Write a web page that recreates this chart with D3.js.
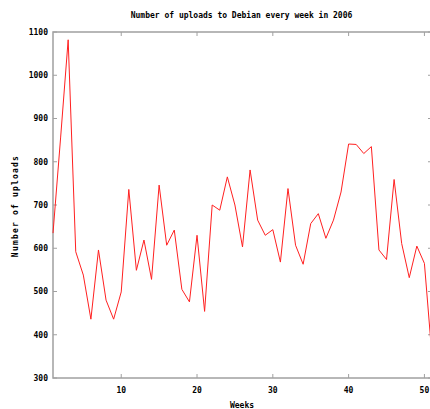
<!DOCTYPE html>
<html>
<head>
<meta charset="utf-8">
<script src="https://cdn.jsdelivr.net/npm/d3@7"></script>
<style>
  body { margin: 0; background: #fff; }
  text { font-family: "DejaVu Sans Mono", monospace; font-size: 8px; font-weight: bold; fill: #000; }
</style>
</head>
<body>
<div id="chart"></div>
<script>
// uploads per week
const weeks = d3.range(1, 52);
const uploads = [635, 855, 1082, 592, 538, 436, 596, 480, 436, 499,
                 736, 549, 619, 528, 746, 607, 642, 505, 476, 630,
                 454, 700, 688, 765, 700, 603, 781, 665, 630, 643,
                 568, 738, 607, 563, 657, 680, 623, 665, 730, 841,
                 840, 819, 835, 596, 574, 759, 611, 532, 605, 565, 350];
const xTicks = [10, 20, 30, 40, 50];
const yTicks = [300, 400, 500, 600, 700, 800, 900, 1000, 1100];

const W = 430, H = 409;
let margin = {top: 32, right: -2, bottom: 31, left: 53};
let width = W - margin.left - margin.right;
let height = H - margin.top - margin.bottom;

let svg = d3.select("#chart").append("svg").attr("width", W).attr("height", H);
let g = svg.append("g").attr("transform", "translate(" + margin.left + "," + margin.top + ")");

let x = d3.scaleLinear().domain([1, 51]).range([0, width]);
let y = d3.scaleLinear().domain([300, 1100]).range([height, 0]);

const grey = "#a0a0a0";

// border
g.append("rect")
    .attr("width", width).attr("height", height)
    .attr("fill", "none").attr("stroke", grey).attr("stroke-width", 1.5);

// inward ticks, mirrored like gnuplot
g.selectAll(".xt").data(xTicks).enter().append("path")
    .attr("stroke", grey)
    .attr("d", d => `M${x(d)},${height}v-4M${x(d)},0v4`);
g.selectAll(".yt").data(yTicks).enter().append("path")
    .attr("stroke", grey)
    .attr("d", d => `M0,${y(d)}h4M${width},${y(d)}h-4`);

g.selectAll(".xl").data(xTicks).enter().append("text")
    .attr("x", d => x(d)).attr("y", height + 15)
    .attr("text-anchor", "middle")
    .text(d => d);
g.selectAll(".yl").data(yTicks).enter().append("text")
    .attr("x", -5).attr("y", d => y(d)).attr("dy", "0.35em")
    .attr("text-anchor", "end")
    .text(d => d);

let line = d3.line()
    .x((d, i) => x(weeks[i]))
    .y(d => y(d));

g.append("path")
    .datum(uploads)
    .attr("fill", "none")
    .attr("stroke", "#ff2020")
    .attr("stroke-width", 1)
    .attr("d", line);

svg.append("text")
    .attr("x", 241.5).attr("y", 18)
    .attr("text-anchor", "middle")
    .text("Number of uploads to Debian every week in 2006");

svg.append("text")
    .attr("x", 242).attr("y", 408)
    .attr("text-anchor", "middle")
    .text("Weeks");

svg.append("text")
    .attr("transform", "translate(18,206) rotate(-90)")
    .attr("text-anchor", "middle")
    .attr("letter-spacing", "1.2px")
    .text("Number of uploads");
</script>
</body>
</html>
